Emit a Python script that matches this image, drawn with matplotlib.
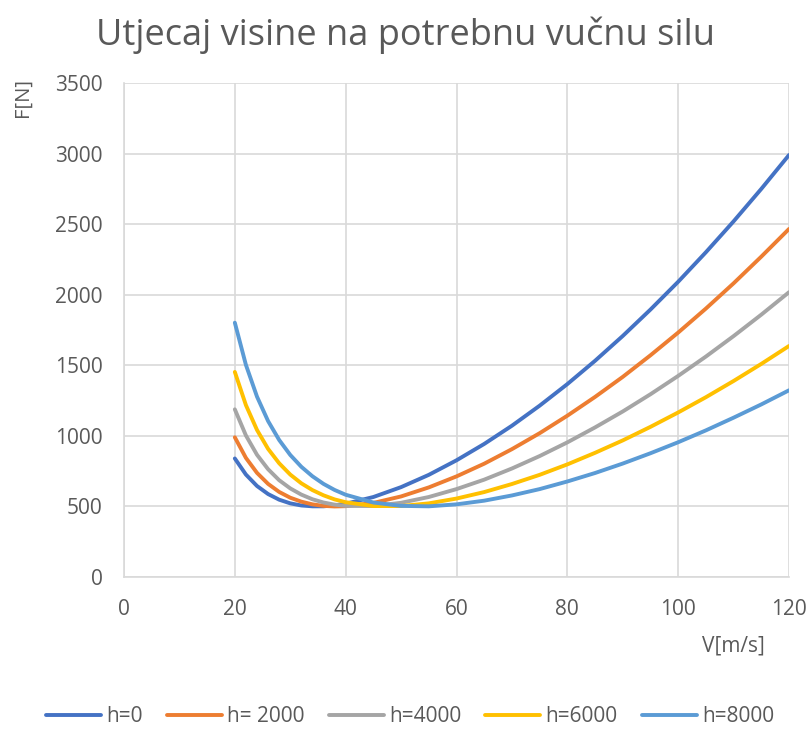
import matplotlib.pyplot as plt

# brzina V [m/s]
v = [20, 22, 24, 26, 28, 30, 32, 34, 36, 38, 40, 45, 50, 55, 60, 65, 70,
     75, 80, 85, 90, 95, 100, 105, 110, 115, 120]

# potrebna vucna sila F [N] za razne visine
f_h0 = [840, 726, 645, 588, 548, 522, 507, 501, 501, 508, 519, 567, 637, 724,
        827, 943, 1072, 1214, 1367, 1532, 1708, 1895, 2092, 2301, 2520, 2750, 2990]
f_h2000 = [990, 844, 738, 660, 603, 562, 534, 515, 504, 500, 502, 525, 571, 635,
           713, 803, 906, 1019, 1143, 1276, 1418, 1571, 1732, 1902, 2081, 2270, 2466]
f_h4000 = [1188, 1003, 866, 764, 686, 628, 584, 551, 528, 513, 504, 503, 526, 567,
           623, 690, 769, 857, 954, 1060, 1173, 1295, 1425, 1562, 1707, 1859, 2018]
f_h6000 = [1453, 1218, 1042, 908, 806, 726, 664, 616, 579, 550, 530, 503, 503, 522,
           556, 602, 659, 724, 798, 880, 968, 1064, 1166, 1274, 1389, 1510, 1637]
f_h8000 = [1802, 1503, 1278, 1105, 971, 865, 781, 714, 660, 617, 583, 528, 504, 501,
           515, 541, 578, 623, 677, 737, 804, 877, 955, 1039, 1129, 1223, 1323]

labels = ['h=0', 'h= 2000', 'h=4000', 'h=6000', 'h=8000']
series = [f_h0, f_h2000, f_h4000, f_h6000, f_h8000]
colors = ['#4472C4', '#ED7D31', '#A5A5A5', '#FFC000', '#5B9BD5']

plt.rcParams['font.family'] = ['Open Sans', 'DejaVu Sans']
txt = '#595959'

fig = plt.figure(figsize=(8.12, 7.32), dpi=100)
ax = fig.add_axes([0.1527, 0.2117, 0.819, 0.6749])

for f, lab, c in zip(series, labels, colors):
    ax.plot(v, f, color=c, linewidth=2.8, label=lab, solid_capstyle='round')

ax.set_xlim(0, 120)
ax.set_ylim(0, 3500)
ax.set_xticks(range(0, 121, 20))
ax.set_yticks(range(0, 3501, 500))
ax.grid(True, color='#d9d9d9', linewidth=1.2)
ax.set_axisbelow(True)
ax.tick_params(length=0, labelsize=15, labelcolor=txt, pad=15.5)
for s in ax.spines.values():
    s.set_color('#d9d9d9')
    s.set_linewidth(1.2)
ax.spines['top'].set_visible(False)
ax.spines['right'].set_visible(False)

fig.text(0.5, 0.952, 'Utjecaj visine na potrebnu vučnu silu', ha='center', va='center',
         fontsize=26, color=txt)
fig.text(0.028, 0.867, 'F[N]', rotation=90, ha='center', va='center', fontsize=14.5, color=txt)
fig.text(0.903, 0.118, 'V[m/s]', ha='center', va='center', fontsize=15, color=txt)

fig.legend(loc='center', bbox_to_anchor=(0.505, 0.021), ncol=5, frameon=False,
           fontsize=15, handlelength=2.65, columnspacing=1.15, handletextpad=0.25,
           labelcolor=txt)

plt.savefig('out.png', dpi=100)
